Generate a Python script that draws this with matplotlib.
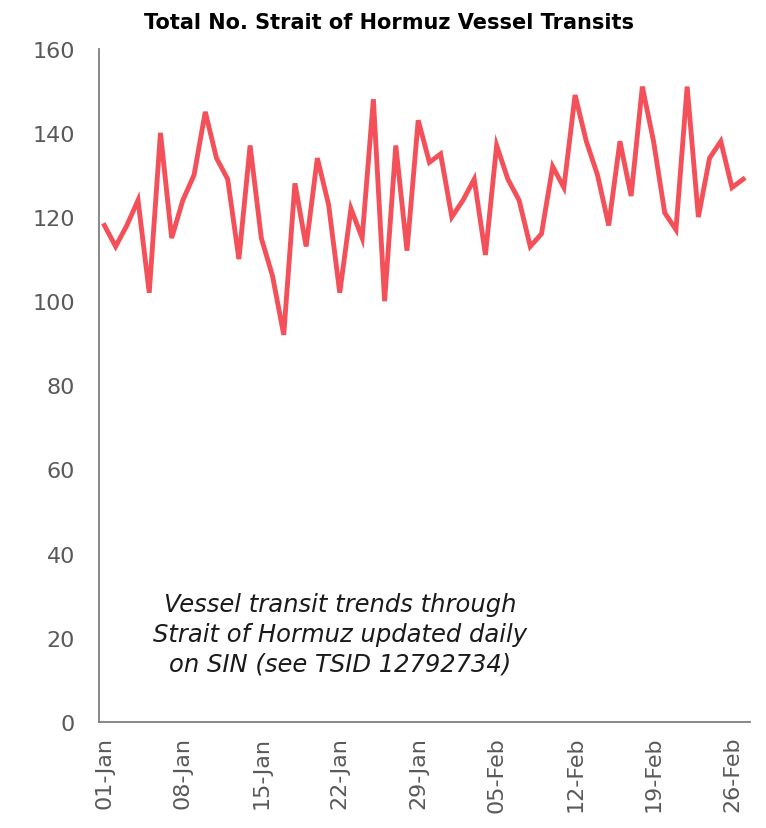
import matplotlib.pyplot as plt
import pandas as pd

# daily vessel transits, 01-Jan to 27-Feb
transits = [118, 113, 118, 124, 102, 140, 115, 124, 130, 145,
            134, 129, 110, 137, 115, 106, 92, 128, 113, 134,
            123, 102, 122, 115, 148, 100, 137, 112, 143, 133,
            135, 120, 124, 129, 111, 137, 129, 124, 113, 116,
            132, 127, 149, 138, 130, 118, 138, 125, 151, 138,
            121, 117, 151, 120, 134, 138, 127, 129]
dates = pd.date_range('2024-01-01', periods=len(transits), freq='D')
tick_labels = ['01-Jan', '08-Jan', '15-Jan', '22-Jan', '29-Jan',
               '05-Feb', '12-Feb', '19-Feb', '26-Feb']

plt.rcParams['font.family'] = ['DejaVu Sans']
grey = '#595959'

fig = plt.figure(figsize=(7.66, 8.29), dpi=100)
ax = fig.add_axes([0.129, 0.128, 0.85, 0.812])

x = range(len(transits))
ax.plot(x, transits, color='#F4505A', lw=3.5, solid_joinstyle='miter')

ax.set_ylim(0, 160)
ax.set_yticks(range(0, 161, 20))
ax.set_xlim(-0.5, len(transits) - 0.4)
ax.set_xticks(range(0, len(transits), 7))
ax.set_xticklabels(tick_labels, rotation=90)
ax.tick_params(length=0, labelsize=16, colors=grey)
ax.tick_params(axis='y', pad=17)
ax.tick_params(axis='x', pad=10)

for s in ['top', 'right']:
    ax.spines[s].set_visible(False)
for s in ['left', 'bottom']:
    ax.spines[s].set_color('#7f7f7f')
    ax.spines[s].set_linewidth(1.3)

fig.text(0.508, 0.972, 'Total No. Strait of Hormuz Vessel Transits',
         ha='center', va='center', fontsize=15, fontweight='bold', color='black')

ax.text(21, 21, 'Vessel transit trends through\nStrait of Hormuz updated daily\non SIN (see TSID 12792734)',
        ha='center', va='center', fontsize=17.5, style='italic', color='#1a1a1a',
        linespacing=1.3)

fig.savefig('out.png', dpi=100)
